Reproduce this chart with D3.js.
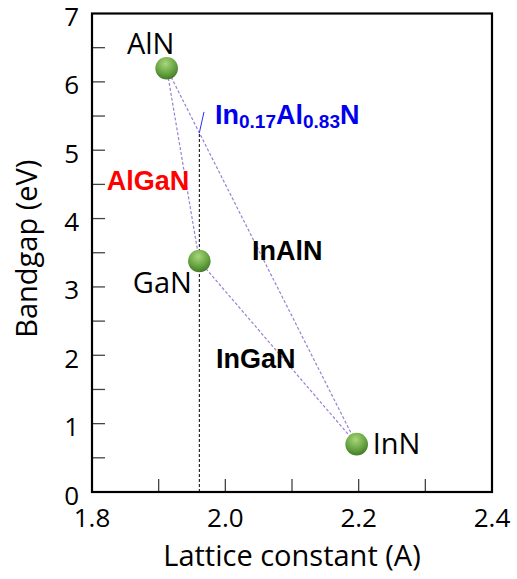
<!DOCTYPE html>
<html>
<head>
<meta charset="utf-8">
<script src="https://cdn.jsdelivr.net/npm/d3@7"></script>
<style>
  html, body { margin: 0; padding: 0; background: #fff; }
  svg { display: block; }
</style>
</head>
<body>
<svg id="chart" width="517" height="579"></svg>
<script>
// Binary nitrides: lattice constant (A) and bandgap (eV)
const compounds = ["AlN", "GaN", "InN"];
const latticeConstant = [1.912, 1.961, 2.197];
const bandgap = [6.2, 3.38, 0.70];

// Ternary alloys drawn as tie lines between the binaries
const alloyNames = ["AlGaN", "InAlN", "InGaN"];
const alloyEnds = [["AlN", "GaN"], ["AlN", "InN"], ["GaN", "InN"]];
const alloyLabelX = [1.822, 2.040, 1.986];
const alloyLabelY = [4.42, 3.40, 1.81];
const alloyLabelColor = ["#ff0000", "#000000", "#000000"];

// Lattice-matched In(0.17)Al(0.83)N composition
const inFraction = 0.17;
const matchedLabelPos = [1.9845, 5.39];
const leaderEnd = [1.968, 5.56];

// Axis ticks
const xTickLabels = [1.8, 2.0, 2.2, 2.4];
const xMinorTicks = [1.9, 2.0, 2.1, 2.2, 2.3];
const yTickLabels = [0, 1, 2, 3, 4, 5, 6, 7];
const yMinorTicks = [0.5, 1, 1.5, 2, 2.5, 3, 3.5, 4, 4.5, 5, 5.5, 6, 6.5];

const svg = d3.select("#chart");
const margin = { left: 92, right: 25, top: 13.5, bottom: 87 };
const W = 517, H = 579;

const x = d3.scaleLinear().domain([1.8, 2.4]).range([margin.left, W - margin.right]);
const y = d3.scaleLinear().domain([0, 7]).range([H - margin.bottom, margin.top]);

const regularFont = "'Open Sans', 'Liberation Sans', sans-serif";
const boldFont = "'Liberation Sans', Arial, sans-serif";

// Sphere-like fill for the markers
const defs = svg.append("defs");
const grad = defs.append("radialGradient").attr("id", "ball")
  .attr("cx", "45%").attr("cy", "30%").attr("r", "75%");
grad.append("stop").attr("offset", "0%").attr("stop-color", "#a9d67c");
grad.append("stop").attr("offset", "55%").attr("stop-color", "#6aa744");
grad.append("stop").attr("offset", "100%").attr("stop-color", "#3d7424");

// Inward tick marks
const ticks = svg.append("g").attr("stroke", "#444").attr("stroke-width", 1.3);
ticks.selectAll("line.xt").data(xMinorTicks).join("line")
  .attr("x1", d => x(d)).attr("x2", d => x(d))
  .attr("y1", y(0)).attr("y2", y(0) - 13);
ticks.selectAll("line.yt").data(yMinorTicks).join("line")
  .attr("x1", x(1.8)).attr("x2", x(1.8) + 13)
  .attr("y1", d => y(d)).attr("y2", d => y(d));

// Frame
svg.append("rect")
  .attr("x", x(1.8)).attr("y", y(7))
  .attr("width", x(2.4) - x(1.8)).attr("height", y(0) - y(7))
  .attr("fill", "none").attr("stroke", "#000").attr("stroke-width", 2.2);

// Tick labels
svg.append("g").selectAll("text").data(xTickLabels).join("text")
  .attr("x", d => x(d)).attr("y", y(0) + 35)
  .attr("text-anchor", "middle")
  .attr("font-family", regularFont).attr("font-size", 26)
  .text(d => d.toFixed(1));
svg.append("g").selectAll("text").data(yTickLabels).join("text")
  .attr("x", x(1.8) - 13).attr("y", d => y(d) + 2.5)
  .attr("text-anchor", "end").attr("dominant-baseline", "central")
  .attr("font-family", regularFont).attr("font-size", 26)
  .text(d => d);

// Axis titles
svg.append("text")
  .attr("x", (x(1.8) + x(2.4)) / 2).attr("y", 566)
  .attr("text-anchor", "middle")
  .attr("font-family", regularFont).attr("font-size", 29)
  .text("Lattice constant (A)");
svg.append("text")
  .attr("transform", `translate(37, ${(y(0) + y(7)) / 2 - 4}) rotate(-90)`)
  .attr("text-anchor", "middle")
  .attr("font-family", regularFont).attr("font-size", 29)
  .text("Bandgap (eV)");

const pos = name => {
  const i = compounds.indexOf(name);
  return [latticeConstant[i], bandgap[i]];
};

// Tie lines
svg.append("g").selectAll("line").data(alloyEnds).join("line")
  .attr("x1", d => x(pos(d[0])[0])).attr("y1", d => y(pos(d[0])[1]))
  .attr("x2", d => x(pos(d[1])[0])).attr("y2", d => y(pos(d[1])[1]))
  .attr("stroke", "#9a7fd2").attr("stroke-width", 1.2)
  .attr("stroke-dasharray", "3,2");

// Lattice match to GaN: point on the AlN–InN line at the GaN lattice constant
const aln = pos("AlN"), inn = pos("InN"), gan = pos("GaN");
const matchX = gan[0];
const matchY = aln[1] + (inn[1] - aln[1]) * (matchX - aln[0]) / (inn[0] - aln[0]);
svg.append("line")
  .attr("x1", x(matchX)).attr("x2", x(matchX))
  .attr("y1", y(0)).attr("y2", y(matchY))
  .attr("stroke", "#000").attr("stroke-width", 1)
  .attr("stroke-dasharray", "3,2");
svg.append("line")
  .attr("x1", x(matchX)).attr("y1", y(matchY))
  .attr("x2", x(leaderEnd[0])).attr("y2", y(leaderEnd[1]))
  .attr("stroke", "#2a2aff").attr("stroke-width", 1);

// Markers
svg.append("g").selectAll("circle").data(compounds).join("circle")
  .attr("cx", (d, i) => x(latticeConstant[i]))
  .attr("cy", (d, i) => y(bandgap[i]))
  .attr("r", 11.3)
  .attr("fill", "url(#ball)");

// Compound labels
const compoundOffsets = { AlN: [-16, -14, "middle"], GaN: [-37, 32, "middle"], InN: [16, 10, "start"] };
svg.append("g").selectAll("text").data(compounds).join("text")
  .attr("x", (d, i) => x(latticeConstant[i]) + compoundOffsets[d][0])
  .attr("y", (d, i) => y(bandgap[i]) + compoundOffsets[d][1])
  .attr("text-anchor", d => compoundOffsets[d][2])
  .attr("font-family", regularFont).attr("font-size", 29)
  .text(d => d);

// Alloy labels
svg.append("g").selectAll("text").data(alloyNames).join("text")
  .attr("x", (d, i) => x(alloyLabelX[i]))
  .attr("y", (d, i) => y(alloyLabelY[i]))
  .attr("fill", (d, i) => alloyLabelColor[i])
  .attr("font-family", boldFont).attr("font-size", 27).attr("font-weight", "bold")
  .text(d => d);

// In0.17Al0.83N label with subscripts
const fmt = d3.format(".2f");
const matched = svg.append("text")
  .attr("x", x(matchedLabelPos[0])).attr("y", y(matchedLabelPos[1]))
  .attr("fill", "#0000ee")
  .attr("font-family", boldFont).attr("font-size", 27).attr("font-weight", "bold");
const parts = [["In", false], [fmt(inFraction), true], ["Al", false], [fmt(1 - inFraction), true], ["N", false]];
parts.forEach(([t, sub]) => {
  matched.append("tspan")
    .attr("font-size", sub ? 19 : 27)
    .attr("baseline-shift", sub ? "-4px" : null)
    .text(t);
});
</script>
</body>
</html>
